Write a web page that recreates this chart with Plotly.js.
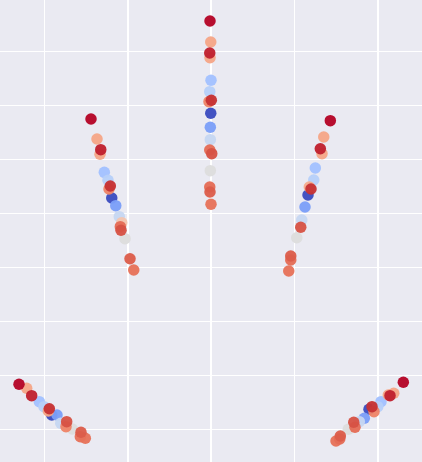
<!DOCTYPE html>
<html>
<head>
<meta charset="utf-8">
<script src="https://cdn.plot.ly/plotly-3.0.1.min.js"></script>
<style>html,body{margin:0;padding:0;background:#EAEAF2;}#chart{width:422px;height:462px;}</style>
</head>
<body>
<div id="chart"></div>
<script>
// Centre (upper, vertical) group
const centerX = [-0.014,-0.005,-0.017,-0.014,-0.002,-0.017,-0.026,0.002,-0.005,-0.010,-0.010,-0.017,0.007,-0.010,-0.017,-0.014,-0.002];
const centerY = [7.561,7.172,6.969,6.881,6.463,6.252,6.067,6.093,5.852,5.593,5.363,5.172,5.104,4.789,4.487,4.394,4.167];
const centerC = [1.0,0.72,0.97,0.72,0.31,0.37,0.80,0.95,0.0,0.2,0.42,0.85,0.90,0.5,0.85,0.88,0.84];

// Left upper group
const leftUpX = [-1.442,-1.370,-1.325,-1.334,-1.282,-1.238,-1.210,-1.226,-1.193,-1.145,-1.102,-1.073,-1.090,-1.082,-1.034,-0.974,-0.929];
const leftUpY = [5.746,5.376,5.178,5.093,4.759,4.611,4.506,4.450,4.283,4.141,3.937,3.826,3.752,3.685,3.530,3.159,2.950];
const leftUpC = [1.0,0.72,0.97,0.72,0.31,0.37,0.95,0.80,0.0,0.2,0.42,0.62,0.85,0.90,0.5,0.88,0.84];

// Right upper group
const rightUpX = [1.430,1.351,1.310,1.330,1.250,1.231,1.178,1.198,1.162,1.126,1.087,1.075,1.027,0.955,0.955,0.931];
const rightUpY = [5.715,5.413,5.196,5.104,4.839,4.617,4.487,4.450,4.339,4.117,3.876,3.741,3.548,3.209,3.135,2.931];
const rightUpC = [1.0,0.72,0.97,0.72,0.31,0.37,0.70,0.95,0.0,0.2,0.42,0.90,0.5,0.88,0.85,0.84];

// Left lower group
const leftLowX = [-2.306,-2.214,-2.154,-2.062,-2.006,-1.954,-1.942,-1.913,-1.850,-1.805,-1.742,-1.734,-1.666,-1.562,-1.570,-1.510];
const leftLowY = [0.833,0.759,0.622,0.511,0.419,0.339,0.381,0.265,0.265,0.111,0.048,0.141,0.006,-0.056,-0.137,-0.167];
const leftLowC = [1.0,0.72,0.97,0.31,0.37,0.72,0.95,0.0,0.2,0.42,0.80,0.90,0.5,0.88,0.84,0.84];

// Right lower group
const rightLowX = [2.306,2.191,2.126,2.146,2.038,1.999,1.894,1.930,1.954,1.838,1.778,1.711,1.726,1.646,1.550,1.498,1.543];
const rightLowY = [0.870,0.667,0.635,0.622,0.511,0.419,0.370,0.419,0.326,0.204,0.141,0.130,0.037,0.000,-0.124,-0.217,-0.180];
const rightLowC = [1.0,0.72,0.72,0.97,0.31,0.37,0.0,0.95,0.80,0.2,0.42,0.90,0.85,0.5,0.88,0.84,0.85];

const coolwarm = [
 [0.0,'rgb(59,76,192)'],[0.0625,'rgb(77,104,215)'],[0.125,'rgb(98,130,234)'],[0.1875,'rgb(119,154,247)'],
 [0.25,'rgb(141,176,254)'],[0.3125,'rgb(163,194,255)'],[0.375,'rgb(184,208,249)'],[0.4375,'rgb(204,217,238)'],
 [0.5,'rgb(221,221,221)'],[0.5625,'rgb(236,211,197)'],[0.625,'rgb(245,196,173)'],[0.6875,'rgb(247,177,148)'],
 [0.75,'rgb(244,154,123)'],[0.8125,'rgb(236,127,99)'],[0.875,'rgb(222,96,77)'],[0.9375,'rgb(203,62,56)'],
 [1.0,'rgb(180,4,38)']
];

let pts = [];
function add(xs, ys, cs){ for(let i=0;i<xs.length;i++) pts.push([xs[i], ys[i], cs[i]]); }
add(centerX, centerY, centerC);
add(leftUpX, leftUpY, leftUpC);
add(rightUpX, rightUpY, rightUpC);
add(leftLowX, leftLowY, leftLowC);
add(rightLowX, rightLowY, rightLowC);
pts.sort((a,b)=>a[2]-b[2]);

const trace = {
  type: 'scatter', mode: 'markers',
  x: pts.map(p=>p[0]), y: pts.map(p=>p[1]),
  marker: {
    size: 11.5, color: pts.map(p=>p[2]), colorscale: coolwarm, cmin: 0, cmax: 1,
    opacity: 0.96, line: {width: 0}, showscale: false
  },
  hoverinfo: 'skip'
};

const axisCommon = {
  showgrid: true, gridcolor: '#FFFFFF', gridwidth: 1.5, zeroline: false,
  showline: false, showticklabels: false, ticks: '', tick0: 0, dtick: 1
};

const layout = {
  width: 422, height: 462,
  margin: {l: 0, r: 0, t: 0, b: 0, pad: 0},
  paper_bgcolor: '#EAEAF2', plot_bgcolor: '#EAEAF2',
  showlegend: false,
  xaxis: Object.assign({}, axisCommon, {range: [-2.534, 2.530]}),
  yaxis: Object.assign({}, axisCommon, {range: [-0.606, 7.95]})
};

Plotly.newPlot('chart', [trace], layout, {staticPlot: true, displayModeBar: false});
</script>
</body>
</html>
